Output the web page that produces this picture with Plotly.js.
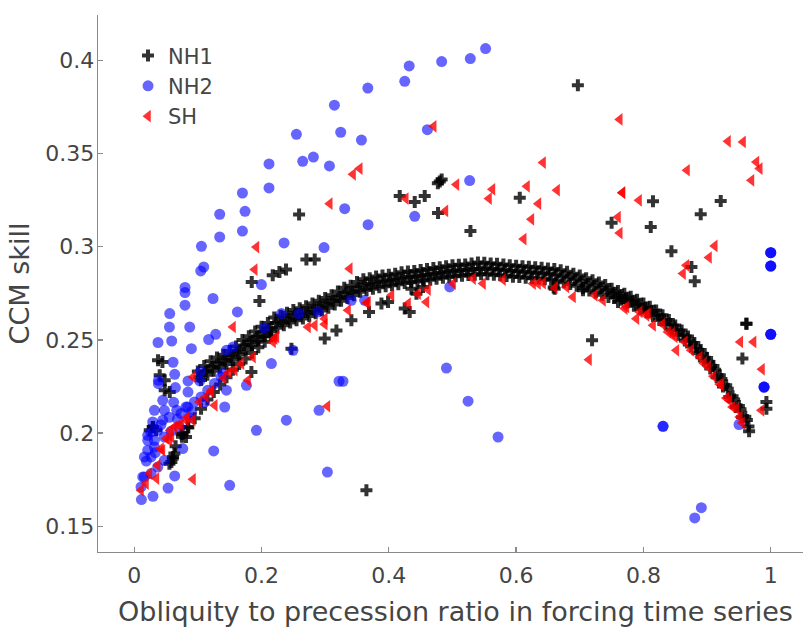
<!DOCTYPE html>
<html>
<head>
<meta charset="utf-8">
<script src="https://cdn.plot.ly/plotly-3.0.1.min.js"></script>
<style>
html,body{margin:0;padding:0;overflow:hidden;background:#fff;}
#chart{width:813px;height:627px;}
</style>
</head>
<body>
<div id="chart"></div>
<script>
// ---------- NH1 (black crosses) ----------
const nh1X = [
  // upper main band, upper row
  0.10,0.11,0.12,0.13,0.14,0.15,0.16,0.17,0.18,0.19,0.20,0.21,0.22,0.23,0.24,0.25,0.26,0.27,0.28,0.29,
  0.30,0.31,0.32,0.33,0.34,0.35,0.36,0.37,0.38,0.39,0.40,0.41,0.42,0.43,0.44,0.45,0.46,0.47,0.48,0.49,
  0.50,0.51,0.52,0.53,0.54,0.55,0.56,0.57,0.58,0.59,0.60,0.61,0.62,0.63,0.64,0.65,0.66,0.67,0.68,0.69,
  0.70,0.71,0.72,0.73,0.74,0.75,0.76,0.77,0.78,0.79,0.80,0.81,0.82,0.83,0.84,0.85,0.86,0.87,0.88,0.89,
  0.90,0.91,0.92,0.93,0.94,0.95,0.96,
  // upper main band, middle row
  0.1025,0.1125,0.1225,0.1325,0.1425,0.1525,0.1625,0.1725,0.1825,0.1925,0.2025,0.2125,0.2225,0.2325,0.2425,0.2525,0.2625,0.2725,0.2825,0.2925,
  0.3025,0.3125,0.3225,0.3325,0.3425,0.3525,0.3625,0.3725,0.3825,0.3925,0.4025,0.4125,0.4225,0.4325,0.4425,0.4525,0.4625,0.4725,0.4825,0.4925,
  0.5025,0.5125,0.5225,0.5325,0.5425,0.5525,0.5625,0.5725,0.5825,0.5925,0.6025,0.6125,0.6225,0.6325,0.6425,0.6525,0.6625,0.6725,0.6825,0.6925,
  0.7025,0.7125,0.7225,0.7325,0.7425,0.7525,0.7625,0.7725,0.7825,0.7925,0.8025,0.8125,0.8225,0.8325,0.8425,0.8525,0.8625,0.8725,0.8825,0.8925,
  0.9025,0.9125,0.9225,0.9325,0.9425,0.9525,0.9625,
  // upper main band, lower row
  0.105,0.115,0.125,0.135,0.145,0.155,0.165,0.175,0.185,0.195,0.205,0.215,0.225,0.235,0.245,0.255,0.265,0.275,0.285,0.295,
  0.305,0.315,0.325,0.335,0.345,0.355,0.365,0.375,0.385,0.395,0.405,0.415,0.425,0.435,0.445,0.455,0.465,0.475,0.485,0.495,
  0.505,0.515,0.525,0.535,0.545,0.555,0.565,0.575,0.585,0.595,0.605,0.615,0.625,0.635,0.645,0.655,0.665,0.675,0.685,0.695,
  0.705,0.715,0.725,0.735,0.745,0.755,0.765,0.775,0.785,0.795,0.805,0.815,0.825,0.835,0.845,0.855,0.865,0.875,0.885,0.895,
  0.905,0.915,0.925,0.935,0.945,0.955,0.965,
  // lower left line
  0.065,0.075,0.085,0.095,0.105,0.115,0.125,0.135,0.145,0.155,0.165,0.175,0.185,0.195,0.205,0.215,
  // scattered
  0.697,0.815,0.750,0.8115,0.890,0.9214,0.844,0.8754,0.8806,0.659,0.705,0.9618,0.9618,0.9555,0.9932,0.9932,0.7193,0.966,
  0.477,0.480,0.483,0.4171,0.4407,0.4564,0.4773,0.5282,0.6057,0.259,0.2705,0.2836,0.2176,0.2281,0.2385,0.1846,0.1967,
  0.3177,0.2993,0.247,0.1841,0.3412,0.3689,0.3884,0.3988,0.425,0.4328,0.4355,0.4537,0.4434,0.6606,0.7601,0.3648,
  0.0374,0.0443,0.040,0.0479,0.0479,0.0558,0.0295,0.0244,0.061,0.0584,0.0742,0.029,0.0343,0.084,0.0762,0.0814,0.0605,0.0631,0.0553
];
const nh1Y = [
  0.233,0.236,0.2385,0.2405,0.242,0.244,0.2465,0.250,0.252,0.2545,0.257,0.259,0.262,0.263,0.2645,0.266,0.267,0.268,0.2695,0.271,
  0.2725,0.274,0.276,0.278,0.279,0.281,0.2825,0.283,0.284,0.2845,0.285,0.2855,0.2863,0.2867,0.287,0.2875,0.288,0.2885,0.289,0.2895,
  0.290,0.2903,0.2905,0.291,0.2915,0.2914,0.291,0.2908,0.2905,0.290,0.2898,0.2895,0.2892,0.289,0.2887,0.2883,0.288,0.2873,0.2865,0.2855,
  0.2845,0.283,0.282,0.2808,0.2795,0.2775,0.2762,0.2748,0.2732,0.2715,0.2695,0.2678,0.2658,0.2632,0.2607,0.2577,0.255,0.2518,0.2483,0.2446,
  0.2403,0.236,0.231,0.2257,0.2198,0.2145,0.2087,
  0.230,0.233,0.2355,0.2375,0.239,0.241,0.2435,0.247,0.249,0.2515,0.254,0.256,0.259,0.260,0.2615,0.263,0.264,0.265,0.2665,0.268,
  0.2695,0.271,0.273,0.275,0.276,0.278,0.2795,0.280,0.281,0.2815,0.282,0.2825,0.2833,0.2837,0.284,0.2845,0.285,0.2855,0.286,0.2865,
  0.287,0.2873,0.2875,0.288,0.288,0.2884,0.288,0.2878,0.2875,0.287,0.2868,0.2865,0.2862,0.286,0.2857,0.2853,0.285,0.2843,0.2835,0.2825,
  0.2815,0.280,0.279,0.2778,0.2765,0.275,0.2737,0.2723,0.2707,0.269,0.2672,0.2655,0.2635,0.261,0.2585,0.2555,0.2528,0.2497,0.2462,0.2425,
  0.2383,0.234,0.229,0.2238,0.218,0.2128,0.207,
  0.2285,0.2313,0.2335,0.2352,0.237,0.2393,0.2423,0.245,0.2473,0.2498,0.252,0.2545,0.2565,0.2578,0.2593,0.2605,0.2615,0.2628,0.2643,0.2658,
  0.2673,0.269,0.271,0.2725,0.274,0.2758,0.2768,0.2775,0.2783,0.2788,0.2793,0.2799,0.2805,0.2809,0.2813,0.2818,0.2823,0.2828,0.2833,0.2838,
  0.2842,0.2844,0.2848,0.285,0.2852,0.2852,0.2849,0.2847,0.2843,0.2839,0.2837,0.2834,0.2831,0.2829,0.2825,0.2822,0.2817,0.2809,0.280,0.279,
  0.2778,0.2765,0.2754,0.2742,0.273,0.2728,0.2715,0.270,0.2683,0.2666,0.2648,0.2628,0.2607,0.2582,0.2555,0.2527,0.2497,0.2465,0.2428,0.2389,
  0.2347,0.230,0.225,0.2194,0.214,0.2085,0.2035,
  0.193,0.198,0.203,0.208,0.213,0.218,0.222,0.226,0.230,0.234,0.237,0.240,0.243,0.246,0.249,0.252,
  0.3866,0.3244,0.3129,0.3106,0.3174,0.3245,0.2975,0.2891,0.2814,0.2781,0.2766,0.2587,0.2587,0.240,0.2167,0.2131,0.2498,0.2010,
  0.3340,0.3350,0.3360,0.3272,0.324,0.3272,0.3181,0.3084,0.3263,0.3173,0.2931,0.2931,0.2847,0.2864,0.2877,0.2811,0.2709,
  0.2551,0.2507,0.2453,0.2328,0.2605,0.2650,0.2695,0.2703,0.2668,0.2650,0.2775,0.2784,0.2748,0.2775,0.2703,0.1693,
  0.2391,0.2382,0.231,0.2283,0.2230,0.2221,0.2033,0.2015,0.1872,0.1845,0.1997,0.2033,0.2015,0.2033,0.1997,0.1979,0.1863,0.1890,0.1836
];

// ---------- NH2 (blue circles) ----------
const nh2X = [
  0.552,0.528,0.483,0.432,0.425,0.367,0.3145,0.3244,0.357,0.4606,0.2548,0.2647,0.2815,0.3067,0.527,0.3307,0.3674,0.4407,0.2982,
  0.2118,0.2118,0.170,0.1741,0.1343,0.1343,0.170,0.1056,0.1092,0.1045,0.2354,0.1998,0.0798,0.0798,0.0798,0.1238,0.1621,0.0558,
  0.0553,0.0872,0.0374,0.0589,0.0898,0.117,0.128,0.0610,0.0636,0.0845,0.104,0.1029,0.0845,0.0647,0.1422,0.192,0.239,0.2904,
  0.3218,0.328,0.3035,0.1249,0.150,0.0636,0.0531,0.0295,0.0113,0.2155,0.1763,0.2495,0.038,0.038,0.0448,0.0317,0.0474,0.0668,
  0.029,0.0448,0.0212,0.0369,0.0474,0.0814,0.0867,0.071,0.0762,0.016,0.0264,0.016,0.0264,0.0107,0.037,0.0474,0.0212,0.0317,
  0.0317,0.0212,0.0134,0.0735,0.084,0.0946,0.105,0.1155,0.126,0.1364,0.1448,0.1395,0.1448,0.1553,0.2045,0.2313,0.259,0.2888,
  0.341,0.362,0.4957,0.4905,0.5245,0.5716,0.8308,0.8308,1.0,1.0,1.0,0.9895,0.9895,0.9895,0.9502,0.891,0.8806,
  1.0,1.0,1.0,1.0,1.0,1.0,
  0.026,0.042,0.055,0.068,0.09,0.11,0.058,0.033,0.019,0.062
];
const nh2Y = [
  0.4063,0.4009,0.3993,0.3970,0.3887,0.3851,0.3759,0.3614,0.3572,0.3628,0.3603,0.3458,0.3481,0.3433,0.3355,0.3204,0.3118,0.3163,0.2995,
  0.3444,0.3315,0.3288,0.3190,0.3174,0.3052,0.3084,0.3002,0.2891,0.2870,0.3020,0.2797,0.2781,0.2754,0.2686,0.2722,0.2650,0.2641,
  0.2569,0.2569,0.2486,0.2494,0.2453,0.2502,0.2530,0.2380,0.2315,0.2280,0.2331,0.2280,0.2220,0.2244,0.2140,0.2015,0.2069,0.2122,
  0.2278,0.2278,0.1791,0.1904,0.1720,0.1770,0.1705,0.1661,0.1643,0.2373,0.2256,0.2444,0.2283,0.2265,0.2176,0.2122,0.2122,0.2122,
  0.2060,0.2069,0.1988,0.2015,0.1979,0.2140,0.2083,0.2033,0.1917,0.1872,0.1872,0.1765,0.1783,0.1711,0.1818,0.1854,0.1961,0.1961,
  0.1925,0.1908,0.1765,0.2105,0.2140,0.2167,0.2194,0.2230,0.2266,0.2301,0.2230,0.2319,0.2444,0.2462,0.2564,0.2641,0.2641,0.2650,
  0.2712,0.2712,0.2784,0.2349,0.2171,0.1979,0.2036,0.2036,0.2530,0.2530,0.2530,0.2247,0.2247,0.2247,0.2046,0.1600,0.1545,
  0.2968,0.2968,0.2968,0.2896,0.2896,0.2896,
  0.2005,0.2045,0.2085,0.2075,0.2115,0.2165,0.2010,0.1895,0.1850,0.2165
];

// ---------- SH (red left triangles) ----------
const shX = [
  0.0107,0.0185,0.0239,0.0349,0.0369,0.0421,0.0443,0.05,0.0553,0.0584,0.0632,0.0688,0.0735,0.0814,0.0919,0.1024,0.1207,0.1213,
  0.1579,0.1684,0.1866,0.2181,0.2234,0.2207,0.0924,0.0924,0.1265,0.1788,0.1552,0.2836,0.2993,0.2993,0.2730,0.3035,0.336,0.3648,
  0.192,0.1893,0.3543,0.3438,0.3072,0.3386,0.4266,0.4889,0.5062,0.4705,0.5628,0.5574,0.6171,0.635,0.624,0.6119,0.6423,0.6643,
  0.7628,0.9329,0.9565,0.9775,0.9827,0.9697,0.8685,0.767,0.767,0.7931,0.7601,0.7628,0.912,0.903,0.8675,0.8622,0.9521,0.973,
  0.9863,0.9854,0.7145,0.8518,
  0.679,0.6894,0.7235,0.7365,0.7706,0.789,0.8047,0.8151,0.8387,0.8492,0.865,0.8885,0.9015,0.9225,0.9304,0.9461,0.9513,
  0.83,0.845,0.875,0.895,0.91,0.92,0.935,0.94,0.955,
  0.3673,0.4041,0.4302,0.4459,0.4616,0.4591,0.5009,0.5323,0.548,0.5794,0.6266,0.6344,0.6423,0.6606,0.7733,0.7942,0.8072,
  0.1405,0.1485,0.1125,0.083,0.0565
];
const shY = [
  0.1693,0.1729,0.1783,0.1756,0.1827,0.1917,0.1908,0.1971,0.1961,0.1979,0.2033,0.2042,0.2042,0.2069,0.2069,0.2167,0.2222,0.2230,
  0.2337,0.2373,0.2408,0.2489,0.2516,0.2507,0.2301,0.1752,0.2149,0.2283,0.2569,0.2578,0.2584,0.2614,0.2569,0.2144,0.2659,0.2698,
  0.2998,0.2877,0.3419,0.3388,0.3231,0.2882,0.3258,0.3192,0.3333,0.3646,0.3308,0.3258,0.3324,0.3231,0.3147,0.3041,0.3451,0.3303,
  0.3683,0.3565,0.3562,0.3454,0.3419,0.3356,0.3410,0.3290,0.3290,0.3249,0.3159,0.3073,0.3004,0.2942,0.2900,0.2856,0.2489,0.2489,
  0.2342,0.2122,0.2394,0.2444,
  0.2784,0.2730,0.2739,0.2712,0.2668,0.2614,0.2632,0.2578,0.2542,0.2516,0.2489,0.2408,0.2355,0.2256,0.2188,0.2131,0.2086,
  0.2585,0.2535,0.2445,0.2375,0.2305,0.2262,0.2175,0.2140,0.2055,
  0.2703,0.2739,0.2695,0.2748,0.2770,0.2703,0.2802,0.2829,0.2802,0.2823,0.2802,0.2802,0.2805,0.2779,0.2677,0.2650,0.2641,
  0.2295,0.2325,0.2195,0.2085,0.2015
];

const xTickVals = [0, 0.2, 0.4, 0.6, 0.8, 1];
const xTickText = ['0', '0.2', '0.4', '0.6', '0.8', '1'];
const yTickVals = [0.15, 0.2, 0.25, 0.3, 0.35, 0.4];
const yTickText = ['0.15', '0.2', '0.25', '0.3', '0.35', '0.4'];

const seriesNames = ['NH1', 'NH2', 'SH'];

const traces = [
  {x: nh1X, y: nh1Y, name: seriesNames[0], type: 'scatter', mode: 'markers',
   marker: {symbol: 'cross', size: 10, color: 'black', opacity: 0.8, line: {width: 0}}},
  {x: nh2X, y: nh2Y, name: seriesNames[1], type: 'scatter', mode: 'markers',
   marker: {symbol: 'circle', size: 11, color: 'blue', opacity: 0.6, line: {width: 0}}},
  {x: shX, y: shY, name: seriesNames[2], type: 'scatter', mode: 'markers',
   marker: {symbol: 'triangle-left', size: 11, color: 'red', opacity: 0.8, line: {width: 0}}}
];

const axisCommon = {
  showline: true, linecolor: '#8a8a8a', linewidth: 1.3, mirror: false,
  showgrid: false, zeroline: false,
  ticks: 'inside', ticklen: 5, tickcolor: '#8a8a8a', tickwidth: 1.3,
  tickfont: {family: 'DejaVu Sans', size: 22, color: '#454545'}
};

const layout = {
  width: 813, height: 627,
  margin: {l: 98, r: 0, t: 15, b: 75},
  paper_bgcolor: '#ffffff', plot_bgcolor: '#ffffff',
  font: {family: 'DejaVu Sans', color: '#454545'},
  showlegend: true,
  legend: {
    x: 0.042, y: 0.962, xanchor: 'left', yanchor: 'top',
    bgcolor: 'rgba(0,0,0,0)', borderwidth: 0,
    font: {family: 'DejaVu Sans', size: 21, color: '#454545'},
    traceorder: 'normal'
  },
  xaxis: Object.assign({}, axisCommon, {
    range: [-0.0569, 1.0664], tickvals: xTickVals, ticktext: xTickText, ticklabelstandoff: 3,
    title: {text: 'Obliquity to precession ratio in forcing time series', font: {family: 'DejaVu Sans', size: 27, color: '#454545'}, standoff: 16}
  }),
  yaxis: Object.assign({}, axisCommon, {
    range: [0.1362, 0.4243], tickvals: yTickVals, ticktext: yTickText, ticklabelstandoff: -2,
    title: {text: 'CCM skill', font: {family: 'DejaVu Sans', size: 27, color: '#454545'}, standoff: 8}
  })
};

Plotly.newPlot('chart', traces, layout, {displayModeBar: false, staticPlot: true});
</script>
</body>
</html>
